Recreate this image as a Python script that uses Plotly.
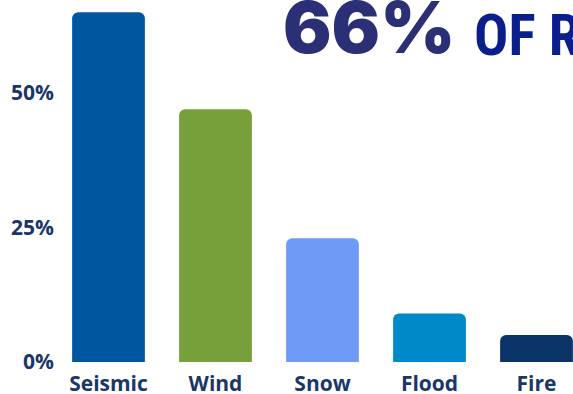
import plotly.graph_objects as go

# Share of loss by hazard type
hazards = ["Seismic", "Wind", "Snow", "Flood", "Fire"]
shares = [65, 47, 23, 9, 5]
bar_colors = ["#0057a0", "#77a03a", "#6f9bf7", "#0089c8", "#0b3466"]
tick_vals = [0, 25, 50]
tick_text = ["0%", "25%", "50%"]

W, H = 573, 394
left, bottom = 58, 32
plot_w = W - left
plot_h = H - bottom
px_per_cat = 107.0
first_center = 108.5
px_per_pct = 5.38

navy = "#1a3768"
label_font = dict(family="Open Sans", size=21, color=navy, weight=700)
narrow = "Roboto Condensed, Liberation Sans Narrow, Arial Narrow, Noto Sans Condensed, DejaVu Sans Condensed, sans-serif"

fig = go.Figure(
    go.Bar(
        x=list(range(len(hazards))),
        y=shares,
        marker=dict(color=bar_colors, line=dict(width=0), cornerradius=6),
        width=0.68,
        hoverinfo="skip",
    )
)

fig.update_layout(
    width=W,
    height=H,
    margin=dict(l=left, r=0, t=0, b=bottom, pad=0),
    paper_bgcolor="white",
    plot_bgcolor="white",
    showlegend=False,
    xaxis=dict(
        range=[-(first_center - left) / px_per_cat, (W - first_center) / px_per_cat],
        tickmode="array",
        tickvals=list(range(len(hazards))),
        ticktext=hazards,
        showgrid=False,
        zeroline=False,
        showline=False,
        ticks="",
        automargin=False,
        ticklabelstandoff=7,
        tickfont=label_font,
    ),
    yaxis=dict(
        range=[0, plot_h / px_per_pct],
        tickmode="array",
        tickvals=tick_vals,
        ticktext=tick_text,
        showgrid=False,
        zeroline=False,
        showline=False,
        ticks="",
        automargin=False,
        ticklabelstandoff=3,
        tickfont=label_font,
    ),
    annotations=[
        dict(
            text="66%",
            xref="paper", yref="paper",
            x=(281 - left) / plot_w, y=1 + 19 / plot_h,
            xanchor="left", yanchor="top",
            showarrow=False,
            font=dict(family="Inter", size=72, color="#2b2f75", weight=900),
        ),
        dict(
            text="OF RISK",
            xref="paper", yref="paper",
            x=(472 - left) / plot_w, y=1 - 0 / plot_h,
            xanchor="left", yanchor="top",
            showarrow=False,
            font=dict(family=narrow, size=57, color="#0b1e8c", weight=700),
        ),
    ],
)

fig.write_html("out.html")
